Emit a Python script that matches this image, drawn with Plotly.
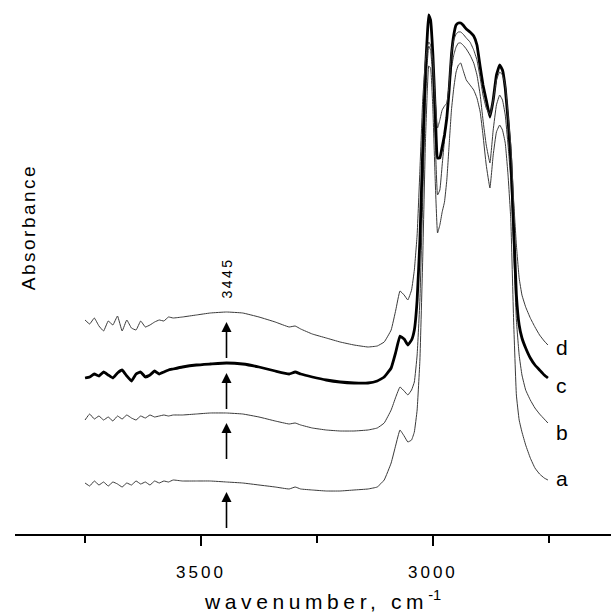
import plotly.graph_objects as go

# ---------------- data ----------------
wavenumber = [3750, 3740, 3730, 3720, 3710, 3700, 3690, 3680, 3670, 3660,
              3650, 3640, 3630, 3620, 3610, 3600, 3590, 3580, 3570, 3560,
              3540, 3510, 3480, 3445, 3410, 3375, 3340, 3310, 3297, 3285,
              3260, 3230, 3200, 3170, 3140, 3120, 3105, 3090, 3080, 3071,
              3062, 3054, 3046, 3040, 3034, 3028, 3022, 3016, 3012, 3009,
              3005, 3000, 2995, 2990, 2985, 2980, 2975, 2970, 2965, 2960,
              2955, 2950, 2945, 2940, 2935, 2928, 2920, 2912, 2905, 2898,
              2892, 2885, 2877, 2870, 2863, 2856, 2850, 2844, 2838, 2832,
              2826, 2820, 2814, 2808, 2800, 2790, 2780, 2770, 2760, 2752]

# stacked absorbance (arbitrary units x100, offsets included as drawn)
absorb_a = [51, 48, 53, 49, 52, 48, 52, 50, 47, 51, 49, 53, 50, 52, 49, 53, 51, 53, 52, 54,
            53, 53, 53, 52, 51, 49, 47, 45, 47, 45,
            44, 43, 43, 44, 45, 47, 54, 71, 89, 104,
            98, 92, 94, 102, 124, 174, 274, 394, 444, 468,
            466, 424, 354, 301, 309, 322, 332, 354, 389, 424,
            446, 462, 469, 471, 464, 454, 449, 444, 436, 422,
            399, 369, 346, 379, 402, 409, 404, 391, 359, 314,
            214, 139, 114, 102, 89, 76, 66, 60, 56, 54]

absorb_b = [114, 120, 115, 118, 114, 117, 113, 118, 115, 119, 116, 114, 118, 116, 119, 117, 118, 119, 118, 119,
            119, 120, 121, 121, 120, 117, 113, 110, 111, 109,
            106, 104, 103, 103, 104, 106, 111, 124, 137, 147,
            143, 139, 144, 152, 179, 234, 334, 434, 472, 488,
            484, 454, 394, 339, 344, 369, 394, 416, 444, 466,
            479, 487, 491, 491, 489, 485, 479, 471, 459, 439,
            414, 389, 371, 404, 429, 439, 434, 419, 389, 354,
            284, 214, 179, 159, 144, 134, 126, 120, 115, 111]

absorb_c = [156, 157, 160, 158, 162, 159, 156, 161, 164, 158, 153, 160, 162, 157, 159, 163, 160, 162, 164, 165,
            167, 169, 170, 171, 170, 167, 163, 160, 162, 160,
            157, 154, 152, 151, 151, 153, 157, 166, 182, 198,
            195, 189, 194, 204, 234, 294, 384, 464, 499, 519,
            514, 479, 424, 376, 376, 387, 399, 416, 444, 479,
            499, 509, 511, 511, 509, 505, 502, 498, 489, 467,
            449, 434, 417, 434, 459, 469, 464, 446, 414, 374,
            309, 239, 209, 196, 186, 176, 169, 164, 159, 156]

absorb_d = [214, 210, 216, 208, 203, 213, 209, 218, 203, 214, 206, 204, 213, 207, 209, 212, 214, 213, 217, 216,
            217, 219, 221, 222, 221, 217, 212, 207, 208, 205,
            200, 196, 192, 189, 187, 188, 192, 204, 224, 243,
            239, 234, 244, 264, 299, 364, 434, 474, 487, 492,
            489, 474, 434, 406, 414, 424, 428, 431, 449, 482,
            494, 500, 502, 502, 500, 496, 492, 484, 474, 456,
            439, 426, 419, 434, 454, 462, 459, 449, 419, 389,
            334, 289, 256, 239, 227, 216, 207, 199, 193, 189]

series_names = ["a", "b", "c", "d"]
marked_band = 3445
major_ticks = [3500, 3000]
major_labels = ["3500", "3000"]
minor_ticks = [3750, 3250, 2750]

# ---------------- figure ----------------
fig = go.Figure()

thin = dict(color="#3a3a3a", width=1)
thick = dict(color="black", width=2.8)
series = {"a": absorb_a, "b": absorb_b, "c": absorb_c, "d": absorb_d}
for name in series_names:
    ln = thick if name == "c" else thin
    fig.add_trace(go.Scatter(x=wavenumber, y=series[name], mode="lines",
                             line=dict(shape="spline", smoothing=0.3, **ln),
                             name=name, hoverinfo="skip"))

# arrows under each trace at the marked band
idx = wavenumber.index(marked_band)
ax_x, ax_y, tip_x, tip_y = [], [], [], []
for name in series_names:
    v = series[name][idx]
    ax_x += [marked_band, marked_band, None]
    ax_y += [v - 46, v - 16, None]
    tip_x.append(marked_band)
    tip_y.append(v - 10)
fig.add_trace(go.Scatter(x=ax_x, y=ax_y, mode="lines",
                         line=dict(color="black", width=1.6), hoverinfo="skip"))
fig.add_trace(go.Scatter(x=tip_x, y=tip_y, mode="markers",
                         marker=dict(symbol="arrow-up", size=10, color="black",
                                     line=dict(width=0)),
                         hoverinfo="skip"))

font_family = "Liberation Sans, Arial, sans-serif"

# series labels at right end
label_x = 2722
label_y = {"a": 56, "b": 102, "c": 149, "d": 187}
for name in series_names:
    fig.add_annotation(x=label_x, y=label_y[name], xref="x", yref="y",
                       text=name, showarrow=False,
                       xanchor="center", yanchor="middle",
                       font=dict(family=font_family, size=21, color="black"))

# band label
fig.add_annotation(x=marked_band, y=256, xref="x", yref="y",
                   text='<span style="letter-spacing:2.5px">%d</span>' % marked_band,
                   textangle=-90, showarrow=False,
                   xanchor="center", yanchor="middle",
                   font=dict(family=font_family, size=14, color="black"))

# axis titles
fig.add_annotation(x=0.516, y=-0.1525, xref="paper", yref="paper",
                   text='<span style="letter-spacing:4.6px">wavenumber, cm</span><sup>-1</sup>',
                   showarrow=False, xanchor="center", yanchor="bottom",
                   font=dict(family=font_family, size=21, color="black"))
fig.add_annotation(x=0.022, y=0.579, xref="paper", yref="paper",
                   text='<span style="letter-spacing:2.5px">Absorbance</span>',
                   textangle=-90, showarrow=False, xanchor="center", yanchor="middle",
                   font=dict(family=font_family, size=19, color="black"))

fig.update_layout(
    width=611, height=616,
    margin=dict(l=15, r=0, t=4, b=82),
    paper_bgcolor="white", plot_bgcolor="white",
    showlegend=False,
    font=dict(family=font_family, color="black"),
    xaxis=dict(range=[3901, 2616], showgrid=False, zeroline=False,
               showline=True, linecolor="black", linewidth=1.5,
               ticks="outside", ticklen=10, tickwidth=1.5, tickcolor="black",
               tickmode="array", tickvals=major_ticks,
               ticktext=['<span style="letter-spacing:3px">%s</span>' % t for t in major_labels],
               ticklabelstandoff=12,
               tickfont=dict(family=font_family, size=17, color="black"),
               minor=dict(tickmode="array", tickvals=minor_ticks, ticks="outside",
                          ticklen=7, tickwidth=1.5, tickcolor="black", showgrid=False)),
    yaxis=dict(range=[0, 530], visible=False),
)

fig.write_html("out.html", config={"displayModeBar": False},
               post_script="document.body.style.margin='0';document.body.style.overflow='hidden';")
